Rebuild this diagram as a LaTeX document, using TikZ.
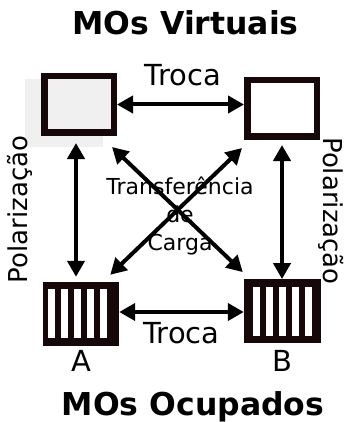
\documentclass[tikz,border=0pt]{standalone}
\usepackage{fontspec}
\setmainfont{DejaVu Sans}
\usetikzlibrary{arrows.meta}
\definecolor{boxblack}{RGB}{22,8,8}
\definecolor{lightfill}{RGB}{240,240,240}
\tikzset{
  mo/.style={draw=boxblack, line width=6.5pt, minimum width=69.5pt, minimum height=56.5pt, inner sep=0pt},
  striped/.style 2 args={fill=boxblack, draw=none, inner sep=0pt,
    path picture={
      \foreach \i in {0,...,4}
        \fill[white] ([xshift=#1+\i*12.9pt, yshift=-#2]path picture bounding box.north west)
          rectangle ++(7pt,-49pt);
    }},
  link/.style={line width=4pt, {Triangle[length=16pt,width=17pt]}-{Triangle[length=16pt,width=17pt]}},
  title/.style={font=\fontsize{31.5}{36}\selectfont\bfseries, anchor=base},
  lbl/.style={font=\fontsize{29}{33}\selectfont, anchor=base},
  side/.style={font=\fontsize{26}{30}\selectfont, anchor=base},
}
\begin{document}
\begin{tikzpicture}[x=1pt,y=-1pt]
\useasboundingbox (0,0) rectangle (344,422);

% soft panel behind the upper-left level
\fill[lightfill] (25,79) rectangle (103,147);

% virtual orbitals
\node[mo, fill=lightfill] (tl) at (79,104.5) {};
\node[mo, fill=white] (tr) at (282,108.5) {};

% occupied orbitals
\node[striped={5pt}{7pt}, minimum width=76pt, minimum height=64pt] (bl) at (81,314) {};
\node[striped={9pt}{7.4pt}, minimum width=77pt, minimum height=63.4pt] (br) at (282.5,311) {};

% texts
\node[title] (ttop) at (185.5,35) {MOs Virtuais};
\node[title] (tbot) at (193,415) {MOs Ocupados};
\node[lbl] (trocaT) at (183,86) {Troca};
\node[lbl] (trocaB) at (181.5,343) {Troca};
\node[lbl] (la) at (81,371.5) {A};
\node[lbl] (lb) at (282.5,371.5) {B};
\node[side, rotate=90] (polL) at (27,209.5) {Polarização};
\node[side, rotate=-90] (polR) at (323,211) {Polarização};
\node[font=\fontsize{22}{28}\selectfont, align=center, anchor=base] (ct) at (180,250)
  {Transferência\\de\\Carga};

% exchange
\draw[link] (tl.east) -- (tl.east -| tr.west);
\draw[link] ([yshift=2pt]bl.east) -- ([yshift=2pt]bl.east -| br.west);

% polarization
\draw[link] ([xshift=-3pt,yshift=-7pt]tl.south) -- ([xshift=-3pt,yshift=5pt]tl.south |- bl.north);
\draw[link] ([yshift=-5pt]tr.south) -- (tr.south |- br.north);

% charge transfer
\draw[link] ([shift={(-5pt,-11pt)}]tl.south east) -- ([shift={(-1pt,7pt)}]br.north west);
\draw[link] ([shift={(-2pt,-8pt)}]tr.south west) -- ([shift={(-9pt,7pt)}]bl.north east);
\end{tikzpicture}
\end{document}
